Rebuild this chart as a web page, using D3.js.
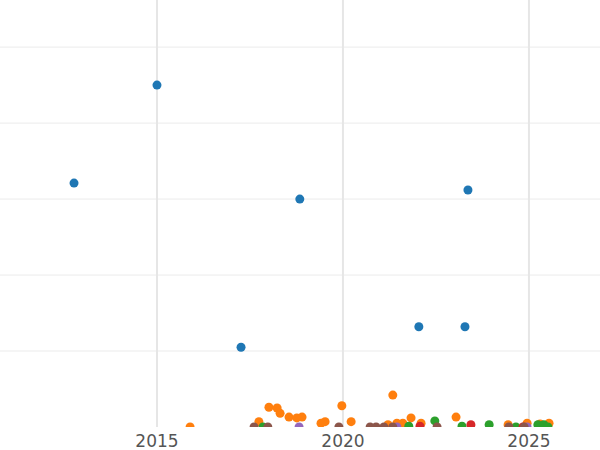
<!DOCTYPE html>
<html><head><meta charset="utf-8">
<script src="https://cdn.jsdelivr.net/npm/d3@7"></script>
<style>body{margin:0;background:#fff}</style>
</head><body><svg id="chart" width="600" height="450"></svg>
<script>
// series values: [year, value]
const blue = [[2012.77,3.21],[2015.0,4.5],[2017.26,1.05],[2018.84,3.0],[2022.04,1.32],[2023.28,1.32],[2023.36,3.12]];
const orange = [[2015.89,0],[2017.74,0.07],[2018.01,0.26],[2018.23,0.25],[2018.31,0.18],[2018.55,0.13],[2018.76,0.12],[2018.90,0.13],[2019.41,0.05],[2019.52,0.07],[2019.97,0.28],[2020.22,0.07],[2021.21,0.03],[2021.34,0.42],[2021.45,0.05],[2021.61,0.05],[2021.83,0.12],[2022.10,0.05],[2023.04,0.13],[2024.44,0.03],[2024.95,0.05],[2025.30,0.04],[2025.54,0.05]];
const green = [[2017.85,0],[2021.77,0.01],[2022.47,0.08],[2023.20,0.01],[2023.93,0.03],[2024.65,0],[2025.24,0.03],[2025.40,0.03],[2025.51,0]];
const red = [[2022.07,0.01],[2023.44,0.03],[2024.84,0]];
const purple = [[2018.82,0],[2021.45,0],[2024.95,0]];
const brown = [[2017.61,0],[2017.98,0],[2019.89,0],[2020.73,0],[2020.89,0],[2021.10,0],[2021.34,0],[2022.53,0],[2024.46,0],[2024.87,0]];
const series = [
  {data: blue, color: "#1f77b4"},
  {data: orange, color: "#ff7f0e"},
  {data: green, color: "#2ca02c"},
  {data: red, color: "#d62728"},
  {data: purple, color: "#9467bd"},
  {data: brown, color: "#8c564b"}
];
const xTicks = [2015, 2020, 2025];
const yGrid = [1, 2, 3, 4, 5];

const svg = d3.select("#chart");
const width = 600, plotBottom = 427;

const x = d3.scaleLinear().domain([2010.78, 2026.91]).range([0, width]);
const y = d3.scaleLinear().domain([0, 5.62]).range([plotBottom, 0]);

svg.append("defs").append("clipPath").attr("id", "clip")
  .append("rect").attr("width", width).attr("height", plotBottom);

// gridlines
svg.append("g").selectAll("line").data(yGrid).enter().append("line")
  .attr("x1", 0).attr("x2", width)
  .attr("y1", (d) => y(d)).attr("y2", (d) => y(d))
  .attr("stroke", "#ebebeb").attr("stroke-width", 1);
svg.append("g").selectAll("line").data(xTicks).enter().append("line")
  .attr("x1", (d) => x(d)).attr("x2", (d) => x(d))
  .attr("y1", 0).attr("y2", plotBottom)
  .attr("stroke", "#e6e6e6").attr("stroke-width", 2);

// points
const pts = svg.append("g").attr("clip-path", "url(#clip)");
series.forEach((s) => {
  pts.append("g").selectAll("circle").data(s.data).enter().append("circle")
    .attr("cx", (d) => x(d[0])).attr("cy", (d) => y(d[1]))
    .attr("r", 4.5).attr("fill", s.color);
});

// x axis labels
svg.append("g").selectAll("text").data(xTicks).enter().append("text")
  .attr("x", (d) => x(d)).attr("y", 447)
  .attr("text-anchor", "middle")
  .attr("font-family", "DejaVu Sans, sans-serif").attr("font-size", 17)
  .attr("fill", "#555").text((d) => d);
</script></body></html>
